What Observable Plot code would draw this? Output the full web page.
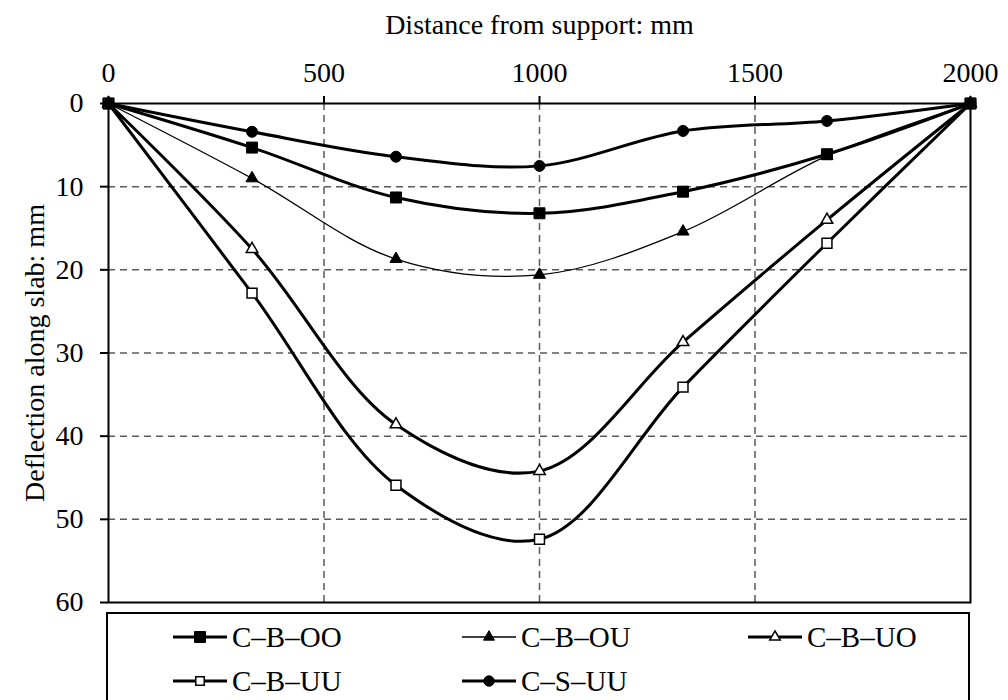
<!DOCTYPE html>
<html>
<head>
<meta charset="utf-8">
<script src="https://cdn.jsdelivr.net/npm/d3@7"></script>
<script src="https://cdn.jsdelivr.net/npm/@observablehq/plot@0.6"></script>
<style>
  html, body { margin: 0; padding: 0; background: #fff; overflow: hidden; }
  #wrap { position: relative; width: 1008px; height: 700px; overflow: hidden; font-family: "Liberation Serif", serif; }
  #legend { position: absolute; left: 106px; top: 612px; width: 864px; height: 110px; border: 2px solid #000; box-sizing: border-box; }
  .item { position: absolute; display: flex; align-items: center; font-size: 29px; line-height: 30px; height: 30px; }
  .item svg { margin-right: 5px; }
</style>
</head>
<body>
<div id="wrap"></div>
<script>
const xs = [0, 333, 667, 1000, 1333, 1667, 2000];
const seriesNames = ["C–B–OO", "C–B–OU", "C–B–UO", "C–B–UU", "C–S–UU"];
const cbOO = [0, 5.3, 11.3, 13.2, 10.6, 6.1, 0];
const cbOU = [0, 9.0, 18.7, 20.6, 15.4, 6.3, 0];
const cbUO = [0, 17.5, 38.6, 44.2, 28.7, 14.0, 0];
const cbUU = [0, 22.8, 45.9, 52.4, 34.1, 16.8, 0];
const csUU = [0, 3.4, 6.4, 7.5, 3.3, 2.1, 0];
const xTicks = [0, 500, 1000, 1500, 2000];
const yTicks = [0, 10, 20, 30, 40, 50, 60];

const seriesValues = [cbOO, cbOU, cbUO, cbUU, csUU];
const styles = [
  {symbol: "square", fill: "black", r: 6.2, sw: 3, dsw: 1, la: 121},
  {symbol: "triangle", fill: "black", r: 4.5, sw: 1.3, dsw: 1, la: 52},
  {symbol: "triangle", fill: "white", r: 4.3, sw: 3, dsw: 1.5, la: 48},
  {symbol: "square", fill: "white", r: 5.6, sw: 3, dsw: 1.5, la: 72},
  {symbol: "circle", fill: "black", r: 5.5, sw: 3, dsw: 1, la: 85}
];

const marks = [
  Plot.gridX([500, 1000, 1500], {stroke: "#5a5a5a", strokeOpacity: 1, strokeWidth: 1.5, strokeDasharray: "7,5"}),
  Plot.gridY([10, 20, 30, 40, 50], {stroke: "#5a5a5a", strokeOpacity: 1, strokeWidth: 1.5, strokeDasharray: "7,5"}),
  Plot.frame({stroke: "black", strokeWidth: 2})
];
seriesNames.forEach((name, i) => {
  const data = xs.map((x, j) => ({x, y: seriesValues[i][j], series: name}));
  const s = styles[i];
  marks.push(Plot.line(data, {x: "x", y: "y", curve: "catmull-rom", stroke: "black", strokeWidth: s.sw}));
});
seriesNames.forEach((name, i) => {
  const data = xs.map((x, j) => ({x, y: seriesValues[i][j], series: name}));
  const s = styles[i];
  marks.push(Plot.dot(data, {x: "x", y: "y", symbol: () => s.symbol, fill: s.fill, stroke: "black", strokeWidth: s.dsw, r: s.r}));
});
marks.push(
  Plot.axisX({anchor: "top", ticks: xTicks, tickFormat: d => String(d), tickSize: 8, tickPadding: 14, strokeWidth: 2,
    label: "Distance from support: mm", labelAnchor: "center", labelArrow: "none", labelOffset: 89}),
  Plot.axisY({anchor: "left", ticks: yTicks, tickFormat: d => String(d), tickSize: 8, tickPadding: 17, strokeWidth: 2,
    label: "Deflection along slab: mm", labelAnchor: "center", labelArrow: "none", labelOffset: 84})
);

const chart = Plot.plot({
  width: 1008, height: 612,
  marginTop: 103, marginLeft: 108, marginRight: 38, marginBottom: 10,
  style: {fontFamily: "Liberation Serif", fontSize: "28px", color: "black", background: "white", overflow: "visible"},
  x: {domain: [0, 2000]},
  y: {domain: [0, 60], reverse: true},
  symbol: {type: "identity"},
  marks
});
const wrap = document.getElementById("wrap");
wrap.appendChild(chart);

// legend
const legend = document.createElement("div");
legend.id = "legend";
wrap.appendChild(legend);
const pos = [[65, 23], [354, 23], [640, 23], [65, 67], [354, 67]];
seriesNames.forEach((name, i) => {
  const s = styles[i];
  const item = document.createElement("div");
  item.className = "item";
  item.style.left = pos[i][0] + "px";
  item.style.top = (pos[i][1] - 15) + "px";
  const ns = "http://www.w3.org/2000/svg";
  const svg = document.createElementNS(ns, "svg");
  svg.setAttribute("width", 54); svg.setAttribute("height", 30);
  const ln = document.createElementNS(ns, "line");
  ln.setAttribute("x1", 0); ln.setAttribute("x2", 54); ln.setAttribute("y1", 15); ln.setAttribute("y2", 15);
  ln.setAttribute("stroke", "black"); ln.setAttribute("stroke-width", s.sw);
  svg.appendChild(ln);
  const sym = {square: d3.symbolSquare, triangle: d3.symbolTriangle, circle: d3.symbolCircle}[s.symbol];
  const p = document.createElementNS(ns, "path");
  p.setAttribute("d", d3.symbol(sym, s.la)());
  p.setAttribute("transform", "translate(27,15)");
  p.setAttribute("fill", s.fill); p.setAttribute("stroke", "black"); p.setAttribute("stroke-width", s.dsw);
  svg.appendChild(p);
  item.appendChild(svg);
  const t = document.createElement("span");
  t.textContent = name;
  item.appendChild(t);
  legend.appendChild(item);
});
</script>
</body>
</html>
